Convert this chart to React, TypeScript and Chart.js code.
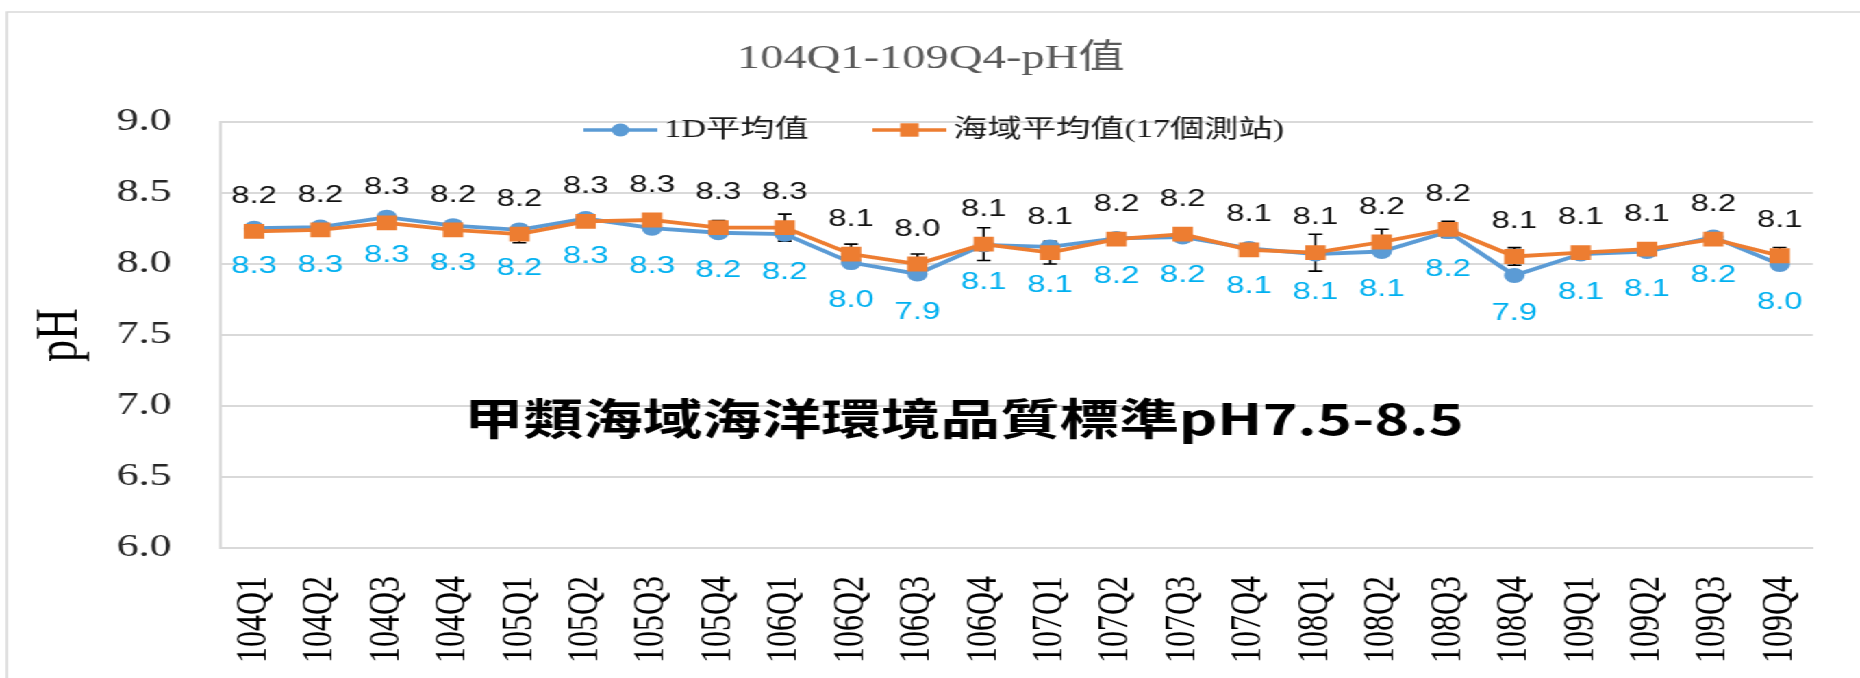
import React, { useEffect, useRef } from 'react';
import { Chart, registerables } from 'chart.js';

Chart.register(...registerables);

// ---- data ----
const categories = [
  '104Q1', '104Q2', '104Q3', '104Q4',
  '105Q1', '105Q2', '105Q3', '105Q4',
  '106Q1', '106Q2', '106Q3', '106Q4',
  '107Q1', '107Q2', '107Q3', '107Q4',
  '108Q1', '108Q2', '108Q3', '108Q4',
  '109Q1', '109Q2', '109Q3', '109Q4',
];
const series1D = [
  8.252, 8.26, 8.33, 8.27,
  8.24, 8.32, 8.252, 8.22,
  8.21, 8.01, 7.93, 8.135,
  8.12, 8.18, 8.19, 8.11,
  8.07, 8.088, 8.228, 7.919,
  8.07, 8.088, 8.19, 7.997,
];
const seriesSea = [
  8.23, 8.24, 8.29, 8.24,
  8.21, 8.3, 8.31, 8.256,
  8.256, 8.07, 8.0, 8.14,
  8.08, 8.175, 8.21, 8.1,
  8.08, 8.155, 8.244, 8.053,
  8.08, 8.105, 8.175, 8.058,
];
const seaError = [
  0.03, 0.03, 0.03, 0.03,
  0.06, 0.02, 0.02, 0.05,
  0.095, 0.07, 0.07, 0.115,
  0.08, 0.02, 0.02, 0.02,
  0.13, 0.09, 0.057, 0.062,
  0.02, 0.03, 0.02, 0.058,
];
const seriesNames = ['1D平均值', '海域平均值(17個測站)'];
const chartTitle = '104Q1-109Q4-pH值';
const axisTitle = 'pH';
const annotationText = '甲類海域海洋環境品質標準pH7.5-8.5';

// ---- layout / style ----
const CANVAS_W = 1358;
const CANVAS_H = 678;
const STRETCH = 1860 / CANVAS_W;
const SERIF = "'Liberation Serif', 'Noto Sans CJK TC', serif";
const SANS = "'Liberation Sans', Arial, sans-serif";
const BLUE = '#5B9BD5';
const ORANGE = '#ED7D31';
const LABEL_BLUE = '#00B0F0';
const GRID = '#d9d9d9';

const fmt = (v: number) => (Math.round(v * 10) / 10).toFixed(1);

const framePlugin = {
  id: 'frame',
  beforeDraw(chart: any) {
    const { ctx } = chart;
    ctx.save();
    ctx.strokeStyle = GRID;
    ctx.lineWidth = 1.6;
    ctx.beginPath();
    ctx.moveTo(5, chart.height + 5);
    ctx.lineTo(5, 12);
    ctx.lineTo(chart.width + 5, 12);
    ctx.stroke();
    ctx.restore();
  },
};

const errorBarPlugin = {
  id: 'errorBars',
  beforeDatasetsDraw(chart: any) {
    const { ctx } = chart;
    const yScale = chart.scales.y;
    const meta = chart.getDatasetMeta(1);
    ctx.save();
    ctx.strokeStyle = '#000';
    ctx.lineWidth = 1.6;
    meta.data.forEach((pt: any, i: number) => {
      const v = seriesSea[i];
      const e = seaError[i];
      const yt = yScale.getPixelForValue(v + e);
      const yb = yScale.getPixelForValue(v - e);
      const x = pt.x;
      ctx.beginPath();
      ctx.moveTo(x, yt);
      ctx.lineTo(x, yb);
      ctx.moveTo(x - 5, yt);
      ctx.lineTo(x + 5, yt);
      ctx.moveTo(x - 5, yb);
      ctx.lineTo(x + 5, yb);
      ctx.stroke();
    });
    ctx.restore();
  },
};

const labelPlugin = {
  id: 'valueLabels',
  afterDatasetsDraw(chart: any) {
    const { ctx } = chart;
    ctx.save();
    ctx.font = `24px ${SANS}`;
    ctx.textAlign = 'center';
    ctx.textBaseline = 'middle';
    const m0 = chart.getDatasetMeta(0);
    m0.data.forEach((pt: any, i: number) => {
      ctx.fillStyle = LABEL_BLUE;
      ctx.fillText(fmt(series1D[i]), pt.x, pt.y + 38);
    });
    const m1 = chart.getDatasetMeta(1);
    m1.data.forEach((pt: any, i: number) => {
      ctx.fillStyle = '#111';
      ctx.fillText(fmt(seriesSea[i]), pt.x, pt.y - 35);
    });
    // annotation
    const xs = chart.scales.x;
    const ys = chart.scales.y;
    ctx.font = `bold 43.5px 'Noto Sans CJK TC', 'Liberation Sans', sans-serif`;
    ctx.fillStyle = '#000';
    ctx.fillText(annotationText, xs.getPixelForValue(10.7), ys.getPixelForValue(6.91));
    ctx.restore();
  },
};

const legendPlugin = {
  id: 'customLegend',
  afterDraw(chart: any) {
    const { ctx, chartArea } = chart;
    const y = chartArea.top + 8;
    const starts = [426, 637];
    ctx.save();
    ctx.font = `25px ${SERIF}`;
    ctx.textBaseline = 'middle';
    ctx.textAlign = 'left';
    chart.data.datasets.forEach((ds: any, i: number) => {
      const x0 = starts[i];
      const len = 54;
      ctx.strokeStyle = ds.borderColor;
      ctx.lineWidth = 3.5;
      ctx.beginPath();
      ctx.moveTo(x0, y);
      ctx.lineTo(x0 + len, y);
      ctx.stroke();
      ctx.fillStyle = ds.backgroundColor;
      const cx = x0 + len / 2;
      if (i === 0) {
        ctx.beginPath();
        ctx.arc(cx, y, 6.5, 0, Math.PI * 2);
        ctx.fill();
      } else {
        ctx.fillRect(cx - 6.7, y - 6.7, 13.4, 13.4);
      }
      ctx.fillStyle = '#1a1a1a';
      ctx.fillText(ds.label, x0 + len + 5, y);
    });
    ctx.restore();
  },
};

export default function App() {
  const ref = useRef<HTMLCanvasElement>(null);

  useEffect(() => {
    if (!ref.current) return;
    const chart = new Chart(ref.current, {
      type: 'line',
      data: {
        labels: categories,
        datasets: [
          {
            label: seriesNames[0],
            data: series1D,
            borderColor: BLUE,
            backgroundColor: BLUE,
            borderWidth: 3.8,
            pointStyle: 'circle',
            pointRadius: 7.5,
            pointBorderWidth: 0,
            pointBackgroundColor: BLUE,
            tension: 0,
            order: 2,
          },
          {
            label: seriesNames[1],
            data: seriesSea,
            borderColor: ORANGE,
            backgroundColor: ORANGE,
            borderWidth: 3.8,
            pointStyle: 'rect',
            pointRadius: 10.5,
            pointBorderWidth: 0,
            pointBackgroundColor: ORANGE,
            tension: 0,
            order: 1,
          },
        ],
      },
      options: {
        animation: false,
        responsive: true,
        maintainAspectRatio: false,
        events: [],
        layout: { padding: { left: 10, right: 8.8, top: 0, bottom: 0 } },
        plugins: {
          legend: { display: false },
          tooltip: { enabled: false },
          title: {
            display: true,
            text: chartTitle,
            color: '#595959',
            font: { family: SERIF, size: 34, weight: 'normal' },
            padding: { top: 39, bottom: 42.2 },
          },
        },
        scales: {
          x: {
            offset: true,
            grid: { display: false },
            border: { display: true, color: GRID, width: 2 },
            ticks: {
              autoSkip: false,
              minRotation: 90,
              maxRotation: 90,
              padding: 20,
              color: '#000',
              font: { family: SERIF, size: 32 },
            },
            afterFit: (s: any) => { s.height = 130; },
          },
          y: {
            min: 6,
            max: 9,
            grid: { color: GRID, lineWidth: 2, drawTicks: false },
            border: { display: true, color: GRID, width: 2 },
            ticks: {
              stepSize: 0.5,
              padding: 36,
              color: '#262626',
              font: { family: SERIF, size: 32 },
              callback: (v: any) => Number(v).toFixed(1),
            },
            title: {
              display: true,
              text: axisTitle,
              color: '#000',
              font: { family: SERIF, size: 44, weight: 'normal' },
              padding: { top: 8, bottom: 0 },
            },
            afterFit: (s: any) => { s.width = 151.3; },
          },
        },
      },
      plugins: [framePlugin, errorBarPlugin, labelPlugin, legendPlugin],
    } as any);
    return () => chart.destroy();
  }, []);

  return (
    <div
      style={{
        position: 'absolute',
        left: 0,
        top: 0,
        width: CANVAS_W,
        height: CANVAS_H,
        transform: `scaleX(${STRETCH})`,
        transformOrigin: '0 0',
        background: '#fff',
      }}
    >
      <canvas ref={ref} />
    </div>
  );
}
